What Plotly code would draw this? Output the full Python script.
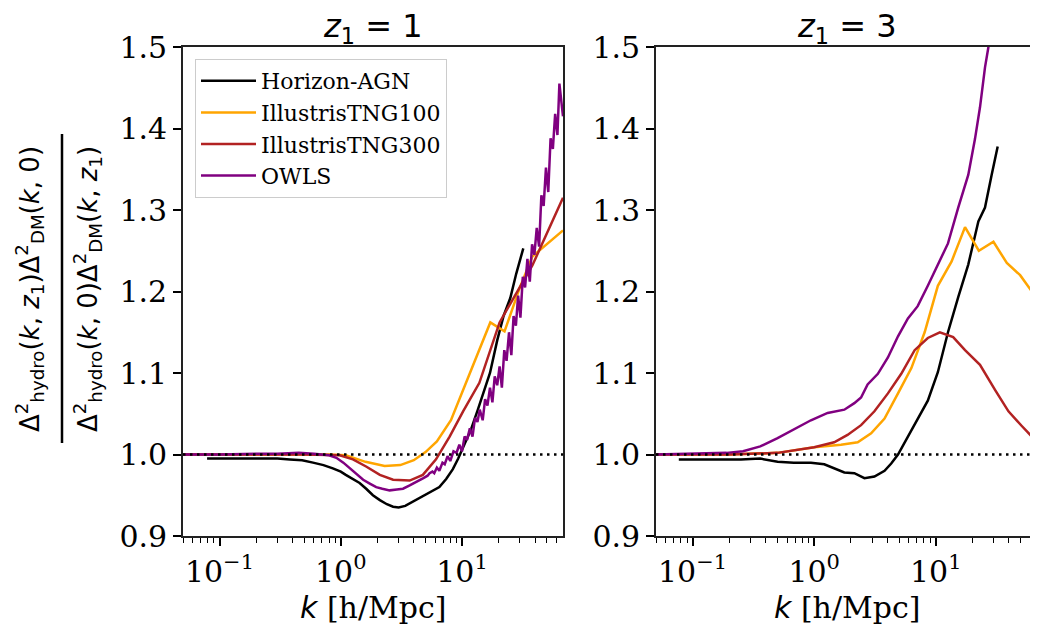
import numpy as np
import plotly.graph_objects as go

# ---------------- data ----------------
names = ["Horizon-AGN", "IllustrisTNG100", "IllustrisTNG300", "OWLS"]
colors = ["#000000", "#FFA500", "#B22222", "#800080"]

# Left panel: z1 = 1
k_hagn_1 = [0.079, 0.12, 0.2, 0.3, 0.38, 0.48, 0.59, 0.72, 0.86, 1.0, 1.1, 1.25, 1.43, 1.62, 1.84, 2.1, 2.4, 2.7, 3.0, 3.4, 3.9, 4.4, 5.0, 5.7, 6.5, 7.4, 8.4, 9.3, 10.2, 11.8, 13.5, 15.2, 17.0, 19.5, 22.0, 25.0, 28.0, 32.0]
v_hagn_1 = [0.995, 0.995, 0.995, 0.995, 0.994, 0.993, 0.990, 0.987, 0.983, 0.979, 0.975, 0.970, 0.965, 0.958, 0.950, 0.944, 0.939, 0.936, 0.935, 0.937, 0.942, 0.946, 0.950, 0.955, 0.960, 0.970, 0.982, 0.995, 1.008, 1.030, 1.055, 1.078, 1.100, 1.140, 1.170, 1.192, 1.222, 1.253]

k_tng100_1 = [0.05, 0.2, 0.5, 0.8, 1.1, 1.6, 2.3, 3.1, 4.0, 5.0, 6.2, 8.1, 17.1, 22.4, 30.0, 38.0, 68.0]
v_tng100_1 = [1.0, 1.0, 1.0, 1.0, 0.999, 0.991, 0.986, 0.987, 0.993, 1.003, 1.016, 1.042, 1.162, 1.151, 1.205, 1.243, 1.275]

k_tng300_1 = [0.05, 0.2, 0.5, 0.98, 1.26, 1.63, 2.1, 2.7, 3.7, 4.75, 6.1, 7.9, 10.2, 13.9, 20.4, 38.0, 68.0]
v_tng300_1 = [1.0, 1.0, 1.0, 0.999, 0.994, 0.985, 0.975, 0.969, 0.968, 0.975, 0.994, 1.022, 1.053, 1.088, 1.162, 1.232, 1.315]

k_owls_1 = [0.05, 0.1, 0.2, 0.3, 0.45, 0.6, 0.8, 0.92, 1.05, 1.19, 1.35, 1.53, 1.75, 1.96, 2.2, 2.53, 2.9, 3.26, 3.7, 4.2, 4.8, 5.2, 5.4, 5.7, 5.9, 6.2, 6.5, 6.9, 7.2, 7.6, 8.0, 8.5, 9.0, 9.5, 10.0, 10.5, 11.0, 11.6, 12.2, 12.8, 13.4, 14.0, 14.8, 15.5, 16.2, 17.0, 17.8, 18.6, 19.5, 20.4, 21.3, 22.3, 23.3, 24.4, 25.5, 26.6, 27.8, 29.0, 30.3, 31.7, 33.1, 34.6, 36.2, 37.8, 39.5, 41.3, 43.2, 45.1, 47.1, 49.2, 51.4, 53.7, 56.1, 58.6, 61.2, 63.5, 65.5, 68.0]
v_owls_1 = [1.0, 1.0, 1.001, 1.001, 1.002, 1.001, 0.999, 0.996, 0.990, 0.983, 0.976, 0.969, 0.964, 0.960, 0.958, 0.956, 0.957, 0.958, 0.962, 0.966, 0.971, 0.974, 0.977, 0.979, 0.977, 0.984, 0.980, 0.990, 0.988, 0.998, 0.992, 1.004, 1.002, 1.012, 1.004, 1.022, 1.018, 1.032, 1.022, 1.045, 1.040, 1.055, 1.042, 1.068, 1.060, 1.082, 1.064, 1.096, 1.085, 1.108, 1.082, 1.128, 1.115, 1.150, 1.122, 1.170, 1.158, 1.195, 1.168, 1.218, 1.205, 1.240, 1.212, 1.258, 1.245, 1.278, 1.255, 1.318, 1.305, 1.352, 1.322, 1.388, 1.375, 1.418, 1.392, 1.455, 1.438, 1.415]

# Right panel: z1 = 3
k_hagn_3 = [0.077, 0.15, 0.25, 0.36, 0.5, 0.68, 0.94, 1.21, 1.46, 1.77, 2.14, 2.59, 3.13, 3.79, 4.3, 4.89, 5.9, 7.1, 8.6, 10.4, 12.6, 15.3, 18.5, 22.4, 25.4, 28.8, 32.3]
v_hagn_3 = [0.994, 0.994, 0.994, 0.995, 0.991, 0.990, 0.990, 0.988, 0.983, 0.978, 0.977, 0.971, 0.973, 0.980, 0.989, 1.000, 1.022, 1.044, 1.066, 1.101, 1.150, 1.193, 1.233, 1.286, 1.303, 1.343, 1.378]

k_tng100_3 = [0.05, 0.2, 0.5, 1.0, 1.66, 2.28, 2.94, 3.79, 4.89, 6.3, 8.1, 10.4, 13.5, 17.4, 22.6, 29.8, 38.4, 49.4, 61.7, 70.0]
v_tng100_3 = [1.0, 1.0, 1.002, 1.009, 1.012, 1.015, 1.026, 1.044, 1.075, 1.106, 1.150, 1.207, 1.237, 1.279, 1.250, 1.261, 1.235, 1.220, 1.200, 1.198]

k_tng300_3 = [0.05, 0.2, 0.5, 1.0, 1.46, 1.88, 2.43, 3.13, 4.04, 5.2, 6.7, 8.6, 10.8, 13.9, 17.4, 23.1, 30.8, 39.6, 51.0, 61.7, 70.0]
v_tng300_3 = [1.0, 1.0, 1.002, 1.009, 1.015, 1.024, 1.036, 1.053, 1.075, 1.099, 1.128, 1.143, 1.150, 1.144, 1.128, 1.110, 1.079, 1.053, 1.035, 1.022, 1.007]

k_owls_3 = [0.05, 0.1, 0.19, 0.26, 0.36, 0.5, 0.68, 0.94, 1.29, 1.5, 1.77, 2.14, 2.43, 2.75, 3.34, 4.04, 4.89, 5.9, 7.1, 8.6, 10.4, 12.6, 15.3, 18.5, 21.0, 23.1, 25.4, 27.1, 30.0]
v_owls_3 = [1.0, 1.001, 1.002, 1.004, 1.010, 1.020, 1.031, 1.042, 1.051, 1.053, 1.055, 1.063, 1.070, 1.086, 1.099, 1.119, 1.145, 1.167, 1.182, 1.207, 1.233, 1.259, 1.303, 1.343, 1.387, 1.426, 1.475, 1.500, 1.560]

x_ticks = [0.1, 1, 10]
x_ticktext = ["10<sup>−1</sup>", "10<sup>0</sup>", "10<sup>1</sup>"]
y_ticks = [0.9, 1.0, 1.1, 1.2, 1.3, 1.4, 1.5]
y_ticktext = ["0.9", "1.0", "1.1", "1.2", "1.3", "1.4", "1.5"]
x_range = [0.05, 68.0]
y_range = [0.9, 1.5]
titles = ["<i>z</i><sub>1</sub> = 1", "<i>z</i><sub>1</sub> = 3"]

# ---------------- figure ----------------
W, H = 1038, 632
OFF = 8  # page body margin offset
fig = go.Figure()

left_series = [(k_hagn_1, v_hagn_1), (k_tng100_1, v_tng100_1), (k_tng300_1, v_tng300_1), (k_owls_1, v_owls_1)]
right_series = [(k_hagn_3, v_hagn_3), (k_tng100_3, v_tng100_3), (k_tng300_3, v_tng300_3), (k_owls_3, v_owls_3)]

for i, (kk, vv) in enumerate(left_series):
    fig.add_trace(go.Scatter(x=kk, y=vv, mode="lines", name=names[i],
                             line=dict(color=colors[i], width=2.5),
                             legendgroup=names[i], showlegend=True,
                             xaxis="x", yaxis="y"))
for i, (kk, vv) in enumerate(right_series):
    fig.add_trace(go.Scatter(x=kk, y=vv, mode="lines", name=names[i],
                             line=dict(color=colors[i], width=2.5),
                             legendgroup=names[i], showlegend=False,
                             xaxis="x2", yaxis="y2"))

def px_x(p):
    return (p - OFF) / W

def px_y(p):
    return 1 - (p - OFF) / H

dom_y = [px_y(536), px_y(47)]
dom_x1 = [px_x(183), px_x(563)]
dom_x2 = [px_x(656), px_x(1037)]

log_range = [np.log10(x_range[0]), np.log10(x_range[1])]
tickfont = dict(family="DejaVu Serif", size=30, color="black")
xcommon = dict(type="log", range=log_range,
               tickmode="array", tickvals=x_ticks, ticktext=x_ticktext, ticks="outside", ticklen=8,
               tickwidth=1.6, tickcolor="black", showgrid=False, zeroline=False,
               showline=True, linecolor="#222", linewidth=1.6, mirror=True,
               tickfont=tickfont, automargin=False,
               minor=dict(dtick="D1", ticks="outside", ticklen=5, tickwidth=1.2,
                          tickcolor="black", showgrid=False))
ycommon = dict(range=y_range, tickvals=y_ticks, ticktext=y_ticktext, ticks="outside",
               ticklen=8, tickwidth=1.6, tickcolor="black", showgrid=False,
               zeroline=False, showline=True, linecolor="#222", linewidth=1.6,
               mirror=True, tickfont=tickfont, automargin=False)

fig.update_layout(
    width=W, height=H, margin=dict(l=0, r=0, t=0, b=0, autoexpand=False),
    paper_bgcolor="white", plot_bgcolor="white",
    xaxis=dict(domain=dom_x1, anchor="y", **xcommon),
    yaxis=dict(domain=dom_y, anchor="x", **ycommon),
    xaxis2=dict(domain=dom_x2, anchor="y2", **xcommon),
    yaxis2=dict(domain=dom_y, anchor="x2", **ycommon),
    legend=dict(x=px_x(195), y=px_y(59), xanchor="left", yanchor="top",
                bgcolor="white", bordercolor="#cccccc", borderwidth=1,
                font=dict(family="DejaVu Serif", size=22, color="black"),
                tracegroupgap=0, itemwidth=55),
    showlegend=True,
)

# dotted reference lines at 1.0
for xr, yr in [("x", "y"), ("x2", "y2")]:
    fig.add_shape(type="line", xref=xr + " domain", yref=yr, x0=0, x1=1, y0=1.0, y1=1.0,
                  line=dict(color="black", width=2.5, dash="2.5px,4.5px"), layer="above")

# panel titles and x labels
for i, dom in enumerate([dom_x1, dom_x2]):
    cx = (dom[0] + dom[1]) / 2
    fig.add_annotation(x=cx, y=px_y(28), xref="paper", yref="paper", text=titles[i],
                       showarrow=False, xanchor="center", yanchor="middle",
                       font=dict(family="DejaVu Sans", size=32, color="black"))
    fig.add_annotation(x=cx, y=px_y(607), xref="paper", yref="paper",
                       text='<span style="font-family:DejaVu Sans"><i>k</i></span> [h/Mpc]',
                       showarrow=False, xanchor="center", yanchor="middle",
                       font=dict(family="DejaVu Serif", size=30, color="black"))

# y label: fraction
num = "Δ<sup>2</sup><sub>hydro</sub>(<i>k</i>, <i>z</i><sub>1</sub>)Δ<sup>2</sup><sub>DM</sub>(<i>k</i>, 0)"
den = "Δ<sup>2</sup><sub>hydro</sub>(<i>k</i>, 0)Δ<sup>2</sup><sub>DM</sub>(<i>k</i>, <i>z</i><sub>1</sub>)"
fig.add_annotation(x=px_x(30), y=px_y(289), xref="paper", yref="paper", text=num,
                   showarrow=False, textangle=-90, xanchor="center", yanchor="middle",
                   font=dict(family="DejaVu Sans", size=26, color="black"))
fig.add_annotation(x=px_x(88), y=px_y(289), xref="paper", yref="paper", text=den,
                   showarrow=False, textangle=-90, xanchor="center", yanchor="middle",
                   font=dict(family="DejaVu Sans", size=26, color="black"))
fig.add_shape(type="line", xref="paper", yref="paper", x0=px_x(62), x1=px_x(62),
              y0=px_y(134), y1=px_y(443), line=dict(color="black", width=2.5))

fig.write_html("out.html")
